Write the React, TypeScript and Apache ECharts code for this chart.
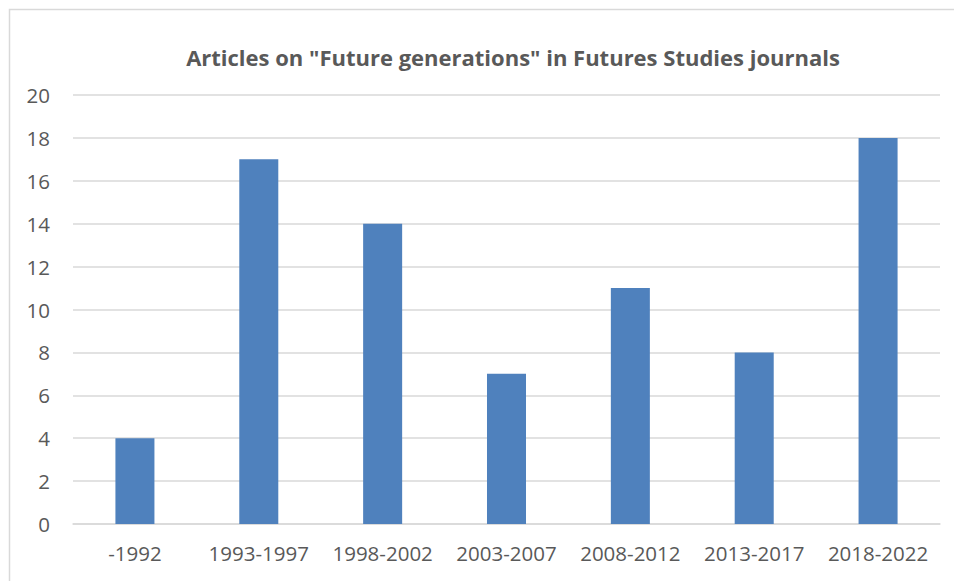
import React, { useEffect, useRef } from "react";
import * as echarts from "echarts";

const titleText = 'Articles on "Future generations" in Futures Studies journals';
const categories = ["-1992", "1993-1997", "1998-2002", "2003-2007", "2008-2012", "2013-2017", "2018-2022"];
const articleCounts = [4, 17, 14, 7, 11, 8, 18];
const yMin = 0;
const yMax = 20;
const yStep = 2;

export default function App() {
  const ref = useRef<HTMLDivElement>(null);
  useEffect(() => {
    if (!ref.current) return;
    const chart = echarts.init(ref.current, undefined, { renderer: "svg" });
    const font = "'Open Sans', 'Noto Sans', sans-serif";
    chart.setOption({
      animation: false,
      backgroundColor: "#ffffff",
      title: {
        text: titleText,
        left: 508,
        textAlign: "center",
        top: 41,
        textStyle: { fontFamily: font, fontWeight: "bold", fontSize: 22, color: "#595959" },
      },
      graphic: [
        {
          type: "rect",
          shape: { x: 9.5, y: 9.5, width: 1100, height: 1100 },
          style: { fill: "none", stroke: "#d9d9d9", lineWidth: 1.5 },
          silent: true,
        },
      ],
      grid: { left: 73, right: 14, top: 95, bottom: 57, containLabel: false },
      xAxis: {
        type: "category",
        data: categories,
        axisLine: { show: true, lineStyle: { color: "#d9d9d9", width: 1.5 } },
        axisTick: { show: false },
        axisLabel: { fontFamily: font, fontSize: 20.5, color: "#595959", margin: 18, interval: 0, hideOverlap: false },
      },
      yAxis: {
        type: "value",
        min: yMin,
        max: yMax,
        interval: yStep,
        axisLine: { show: false },
        axisTick: { show: false },
        splitLine: { lineStyle: { color: "#d9d9d9", width: 1.5 } },
        axisLabel: { fontFamily: font, fontSize: 20.5, color: "#595959", margin: 23 },
      },
      series: [
        {
          type: "bar",
          data: articleCounts,
          barWidth: "31.5%",
          itemStyle: { color: "#4F81BD" },
        },
      ],
    });
    return () => chart.dispose();
  }, []);
  return (
    <div
      ref={ref}
      style={{ position: "fixed", left: 0, top: 0, width: 954, height: 581 }}
    />
  );
}
